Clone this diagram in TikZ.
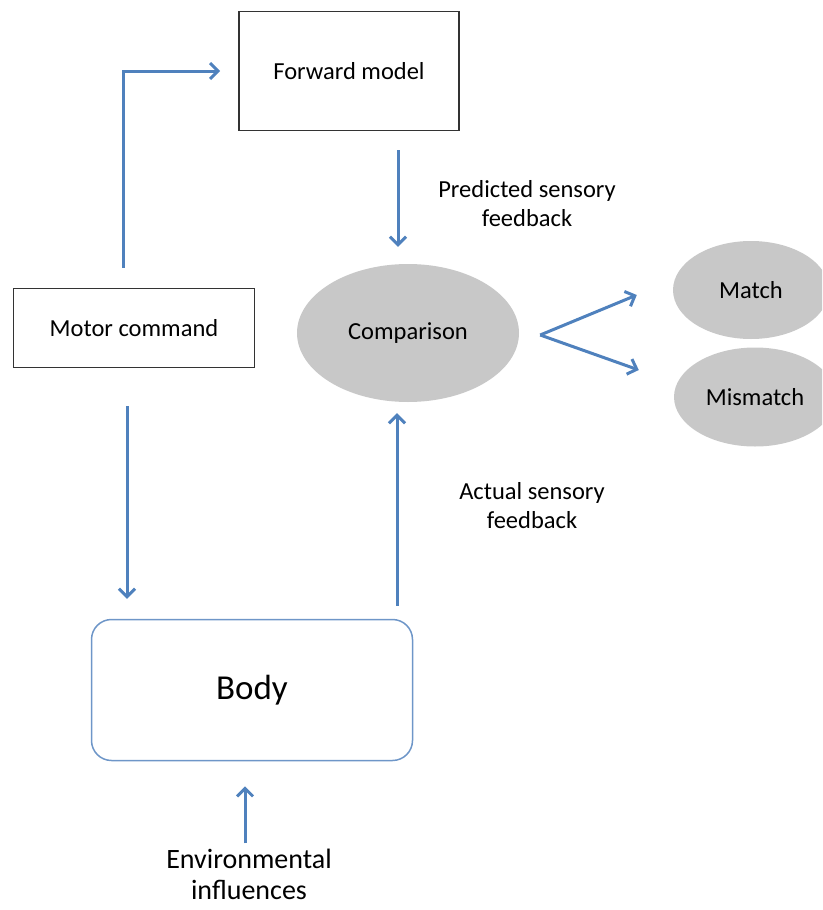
\documentclass[tikz,border=0pt]{standalone}
\usepackage{fontspec}
\setmainfont{Carlito}
\usetikzlibrary{shapes.geometric,arrows.meta}
\definecolor{arrowblue}{RGB}{79,129,189}
\definecolor{bodyblue}{RGB}{110,150,200}
\definecolor{ovalgray}{RGB}{200,200,200}
\tikzset{box node/.style={rectangle,draw=black!80,line width=1.6pt,inner sep=0pt},
            oval node/.style={ellipse,fill=ovalgray,inner sep=0pt},
            label node/.style={align=center,inner sep=0pt},
            arr/.style={draw=arrowblue,line width=3pt,-{Straight Barb[length=8pt,width=16pt]}},
            }

\begin{document}
\begin{tikzpicture}[x=1pt,y=-1pt,font=\fontsize{24.5}{29}\selectfont]
    \clip (0,0) rectangle (822,910);
    \node[box node,minimum width=220pt,minimum height=119pt] (fwd) at (349,71) {Forward model};
    \node[box node,minimum width=241pt,minimum height=79pt] (motor) at (134,328) {Motor command};
    \node[oval node,minimum width=222pt,minimum height=138pt] (comp) at (408,333) {Comparison};
    \node[oval node,minimum width=156pt,minimum height=98pt] (match) at (751,290) {Match};
    \node[oval node,minimum width=162pt,minimum height=99pt] (mismatch) at (755,397) {Mismatch};
    \node[rectangle,rounded corners=20pt,draw=bodyblue,line width=1.5pt,minimum width=321pt,minimum height=141pt,font=\fontsize{35}{42}\selectfont] (body) at (252,690) {Body};

    \node[label node] (pred) at (527,204) {Predicted sensory\\feedback};
    \node[label node] (actual) at (532,506) {Actual sensory\\feedback};
    \node[label node,font=\fontsize{28}{31}\selectfont] (env) at (249,874) {Environmental\\influences};

    \draw[arr,shorten <=20pt,shorten >=18pt] ([xshift=-11pt]motor.north) |- (fwd.west);
    \draw[arr,shorten <=19pt,shorten >=17pt] ([xshift=49pt]fwd.south) -- ([xshift=49pt]fwd.south |- comp.north);
    \draw[arr,shorten <=13pt,shorten >=11pt] ([xshift=145pt]body.north) -- ([xshift=145pt]body.north |- comp.south);
    \draw[arr,shorten <=38pt,shorten >=20pt] ([xshift=-7pt]motor.south) -- ([xshift=-7pt]motor.south |- body.north);
    \draw[arr,shorten >=25pt] ([xshift=-4pt,yshift=5pt]env.north) -- ([xshift=-4pt]env.north |- body.south);

    \coordinate (split) at ([xshift=21pt,yshift=-2pt]comp.east);
    \draw[arr] (split) -- ([xshift=-36pt,yshift=-5pt]match.west);
    \draw[arr] (split) -- ([xshift=-35pt,yshift=27pt]mismatch.west);
\end{tikzpicture}
\end{document}
